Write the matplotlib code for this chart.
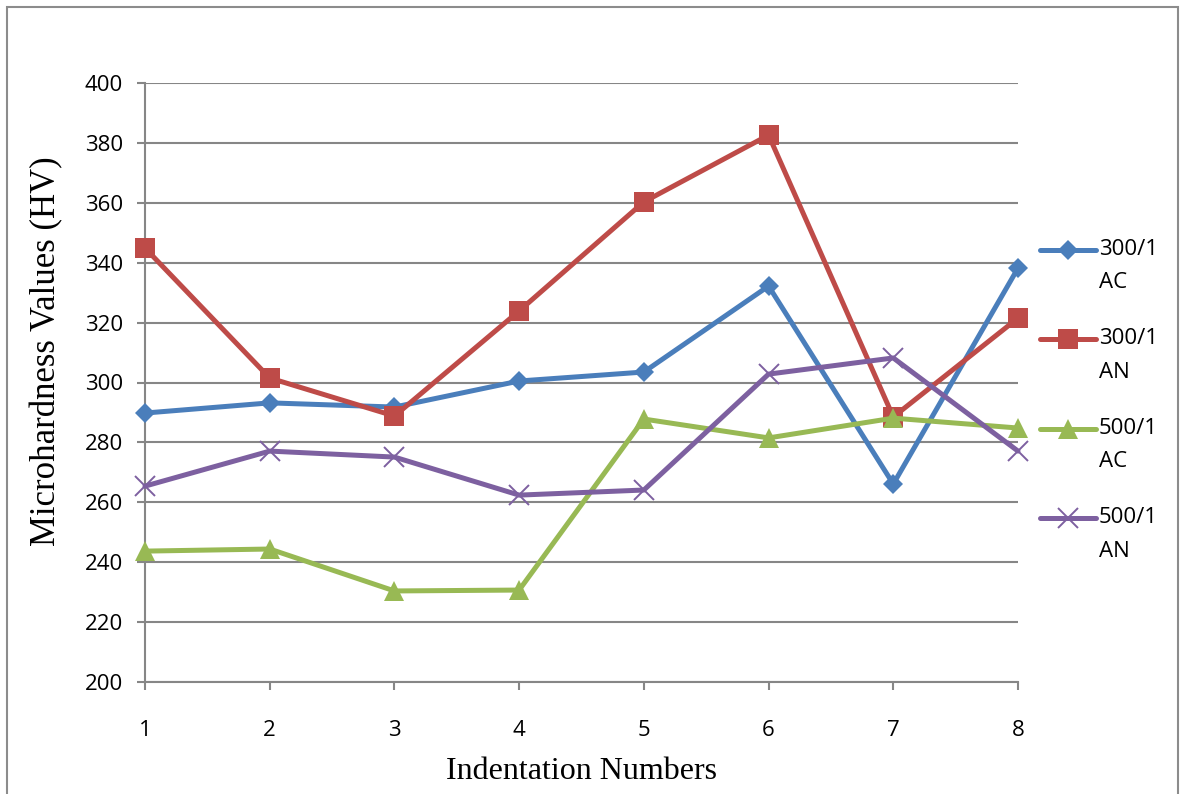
import matplotlib
matplotlib.use("Agg")
import numpy as np
import matplotlib.pyplot as plt
from matplotlib.patches import Rectangle
from matplotlib.legend_handler import HandlerLine2D

indentations = [1, 2, 3, 4, 5, 6, 7, 8]
ac_300 = [289.8, 293.2, 291.8, 300.5, 303.5, 332.2, 266.1, 338.2]
an_300 = [344.9, 301.5, 288.8, 323.9, 360.3, 382.6, 288.5, 321.5]
ac_500 = [243.7, 244.4, 230.4, 230.7, 287.8, 281.5, 288.1, 284.8]
an_500 = [265.4, 277.1, 275.1, 262.4, 264.1, 302.8, 308.2, 277.1]
labels = ["300/1\nAC", "300/1\nAN", "500/1\nAC", "500/1\nAN"]
y_ticks = list(range(200, 401, 20))

W, H = 1182, 794
fig = plt.figure(figsize=(W / 100, H / 100), dpi=100)
# outer chart-area frame (bottom edge falls outside the canvas)
fig.patches.append(Rectangle((7 / W, -0.05), (1178 - 7) / W, 0.05 + (H - 7) / H,
                             transform=fig.transFigure, fill=False,
                             edgecolor="#8c8c8c", linewidth=1.5))

ax = fig.add_axes([145 / W, 1 - 682 / H, (1018 - 145) / W, (682 - 83) / H])

grid_c = "#868686"
series = [
    (ac_300, "#4A7EBB", "D", 10, labels[0]),
    (an_300, "#BE4B48", "s", 14.5, labels[1]),
    (ac_500, "#98B954", "^", 14.5, labels[2]),
    (an_500, "#7D60A0", "x", 14.5, labels[3]),
]
handles = []
for vals, col, mk, ms, lab in series:
    kw = dict(color=col, linewidth=3.6, marker=mk, markersize=ms,
              markerfacecolor=col, markeredgecolor=col, label=lab,
              solid_capstyle="round", solid_joinstyle="round")
    kw["markeredgewidth"] = 1.4 if mk == "x" else 0
    h, = ax.plot(indentations, vals, clip_on=False, zorder=3, **kw)
    handles.append(h)

ax.set_xlim(1, 8)
ax.set_ylim(200, 400)
ax.set_xticks(indentations)
ax.set_yticks(y_ticks)
ax.yaxis.grid(True, color=grid_c, linewidth=1.5)
ax.set_axisbelow(True)
for s in ["top", "right"]:
    ax.spines[s].set_visible(False)
for s in ["left", "bottom"]:
    ax.spines[s].set_color(grid_c)
    ax.spines[s].set_linewidth(1.5)
ax.tick_params(axis="both", colors=grid_c, width=1.5, length=6,
               direction="out", labelcolor="black", labelsize=16)
ax.tick_params(axis="y", pad=10)
ax.tick_params(axis="x", pad=21)
for t in ax.get_xticklabels() + ax.get_yticklabels():
    t.set_fontfamily("Open Sans")

ax.set_xlabel("Indentation Numbers", fontfamily="Liberation Serif",
              fontsize=23, labelpad=12)
ax.set_ylabel("Microhardness Values (HV)", fontfamily="Liberation Serif",
              fontsize=25)
ax.yaxis.set_label_coords(-0.094, 0.553)


class FirstLineHandler(HandlerLine2D):
    """Line handle aligned with the first line of a two-line label."""

    def create_artists(self, legend, orig_handle, xdescent, ydescent,
                       width, height, fontsize, trans):
        arts = super().create_artists(legend, orig_handle, xdescent, ydescent,
                                      width, height, fontsize, trans)
        for a in arts:
            a.set_ydata(np.asarray(a.get_ydata(), dtype=float) + 0.74 * fontsize)
        return arts


leg_fs = 16
leg = fig.legend(handles=handles, loc="upper left",
                 bbox_to_anchor=(1040 / W, 1 - 239 / H), frameon=False,
                 prop={"family": "Open Sans", "size": leg_fs},
                 handlelength=2.5, handletextpad=0.15, labelspacing=1.58,
                 borderpad=0, borderaxespad=0,
                 handler_map={h: FirstLineHandler() for h in handles})
for t in leg.get_texts():
    t.set_linespacing(1.77)

fig.savefig("out.png", dpi=100)
